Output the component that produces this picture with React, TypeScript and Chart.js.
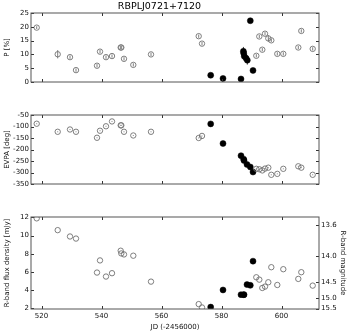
import React, { useEffect, useRef } from 'react';
import { Chart, registerables } from 'chart.js';

Chart.register(...registerables);

// ---------------- data ----------------
const chartTitle = 'RBPLJ0721+7120';
const xTicks = [520, 540, 560, 580, 600];
const pTicks = [0, 5, 10, 15, 20, 25];
const evpaTicks = [-350, -300, -250, -200, -150, -100, -50];
const fluxTicks = [2, 4, 6, 8, 10, 12];
const magTicks = [13.6, 14.0, 14.5, 15.0, 15.5];

const jdOpen = [518.4, 525.4, 529.5, 531.5, 538.5, 539.5, 541.5, 543.5, 546.4, 546.6, 547.5, 550.6, 556.5,
  572.4, 573.5, 591.6, 592.6, 593.6, 594.5, 595.6, 596.6, 598.6, 600.6, 605.6, 606.6, 610.4];
const pOpen = [19.7, 10.05, 9.0, 4.3, 5.9, 11.0, 9.0, 9.4, 12.5, 12.5, 8.4, 6.2, 10.0,
  16.6, 13.9, 9.5, 16.5, 11.7, 17.5, 15.8, 15.1, 10.2, 10.2, 12.5, 18.5, 12.0];
const pOpenErr = [0.5, 1.5, 0.6, 0.6, 0.6, 0.6, 0.6, 0.6, 0.6, 0.6, 0.6, 0.6, 0.6,
  0.6, 0.6, 0.6, 0.6, 0.6, 0.6, 1.2, 0.6, 0.6, 0.6, 0.6, 0.6, 0.6];
const evpaOpen = [-88, -123, -113, -123, -149, -118.5, -99, -78, -95, -95, -123, -139, -123,
  -150, -141, -284, -286, -291, -283, -279, -310, -306, -284, -273, -279, -310];
const evpaOpenErr = [2, 2, 2, 2, 2, 2, 2, 2, 2, 2, 2, 2, 2,
  2, 2, 2, 2, 2, 2, 2, 2, 2, 2, 2, 2, 2];
const fluxOpen = [11.9, 10.6, 9.9, 9.67, 5.92, 7.26, 5.48, 5.85, 8.33, 8.03, 7.92, 7.78, 4.92,
  2.44, 2.07, 5.4, 5.14, 4.22, 4.37, 4.85, 6.51, 4.55, 6.29, 5.22, 5.96, 4.48];

const jdFilledP = [576.4, 580.5, 586.5, 587.3, 587.4, 587.6, 588.2, 588.6, 589.6, 590.5];
const pFilled = [2.45, 1.3, 1.1, 11.1, 10.4, 9.3, 8.6, 7.9, 22.2, 4.2];
const pFilledErr = [0.3, 0.3, 0.3, 1.6, 0.5, 0.5, 0.5, 1.6, 0.4, 0.4];

const jdFilled = [576.4, 580.5, 586.5, 587.4, 587.5, 588.5, 589.6, 590.5];
const evpaFilled = [-88.6, -174, -227, -242, -248, -265, -276, -298];
const fluxFilled = [2.11, 4.0, 3.48, 3.48, 3.48, 4.59, 4.51, 7.18];

// ---------------- layout / style ----------------
const W = 349;
const H = 333;
const FONT = 'DejaVu Sans';
const X_MIN = 516.5;
const X_MAX = 612.5;
const FLUX_MIN = 1.9;
const FLUX_MAX = 12.05;
const R_ZERO_MJY = 3.08e6; // R-band zero point in mJy

const magToFlux = (m: number) => R_ZERO_MJY * Math.pow(10, -0.4 * m);

const pts = (xs: number[], ys: number[]) => xs.map((x, i) => ({ x, y: ys[i] }));

const openStyle = {
  pointRadius: 2.7,
  pointBorderWidth: 0.9,
  pointBorderColor: '#707070',
  pointBackgroundColor: 'rgba(0,0,0,0)',
  showLine: false,
};
const filledStyle = {
  pointRadius: 3,
  pointBorderWidth: 0.5,
  pointBorderColor: '#000',
  pointBackgroundColor: '#000',
  showLine: false,
};

const errorBars = {
  id: 'errorBars',
  beforeDatasetsDraw(chart: any) {
    const { ctx } = chart;
    chart.data.datasets.forEach((ds: any) => {
      if (!ds.errs) return;
      const xs = chart.scales.x;
      const ys = chart.scales[ds.yAxisID || 'y'];
      ctx.save();
      ctx.strokeStyle = ds.errColor || '#707070';
      ctx.lineWidth = 0.9;
      ds.data.forEach((p: any, i: number) => {
        const e = ds.errs[i];
        const px = xs.getPixelForValue(p.x);
        ctx.beginPath();
        ctx.moveTo(px, ys.getPixelForValue(p.y - e));
        ctx.lineTo(px, ys.getPixelForValue(p.y + e));
        ctx.stroke();
      });
      ctx.restore();
    });
  },
};

const frameTicks = {
  id: 'frameTicks',
  afterDraw(chart: any) {
    const { ctx, chartArea: a } = chart;
    const L = 3;
    ctx.save();
    ctx.strokeStyle = '#333';
    ctx.lineWidth = 1;
    const xs = chart.scales.x;
    xTicks.forEach((v) => {
      const px = Math.round(xs.getPixelForValue(v)) + 0.5;
      ctx.beginPath();
      ctx.moveTo(px, a.bottom);
      ctx.lineTo(px, a.bottom - L);
      ctx.moveTo(px, a.top);
      ctx.lineTo(px, a.top + L);
      ctx.stroke();
    });
    const y = chart.scales.y;
    const y2 = chart.scales.y2;
    y.ticks.forEach((t: any) => {
      const py = Math.round(y.getPixelForValue(t.value)) + 0.5;
      ctx.beginPath();
      ctx.moveTo(a.left, py);
      ctx.lineTo(a.left + L, py);
      if (!y2) {
        ctx.moveTo(a.right, py);
        ctx.lineTo(a.right - L, py);
      }
      ctx.stroke();
    });
    if (y2) {
      y2.ticks.forEach((t: any) => {
        const py = Math.round(y2.getPixelForValue(t.value)) + 0.5;
        ctx.beginPath();
        ctx.moveTo(a.right, py);
        ctx.lineTo(a.right - L, py);
        ctx.stroke();
      });
    }
    ctx.strokeStyle = '#555';
    ctx.strokeRect(a.left, a.top, a.right - a.left, a.bottom - a.top);
    ctx.restore();
  },
};

const tickFont = { family: FONT, size: 7 };

function leftAxis(min: number, max: number, ticks: number[], label: string) {
  return {
    type: 'linear',
    position: 'left',
    min,
    max,
    afterFit: (s: any) => { s.width = 31; },
    afterBuildTicks: (s: any) => { s.ticks = ticks.map((v) => ({ value: v })); },
    ticks: { font: tickFont, color: '#111', padding: 2 },
    grid: { display: false, drawTicks: false },
    border: { display: false },
    title: { display: true, text: label, font: tickFont, color: '#111', padding: { top: 3, bottom: 0 } },
  };
}

function xAxis(show: boolean) {
  return {
    type: 'linear',
    min: X_MIN,
    max: X_MAX,
    display: show,
    afterFit: (s: any) => { s.height = 24; },
    afterBuildTicks: (s: any) => { s.ticks = xTicks.map((v) => ({ value: v })); },
    ticks: { font: tickFont, color: '#111', padding: 3, maxRotation: 0 },
    grid: { display: false, drawTicks: false },
    border: { display: false },
    title: { display: true, text: 'JD (-2456000)', font: tickFont, color: '#111', padding: { top: 0, bottom: 2 } },
  };
}

function buildConfigs(): any[] {
  const common = {
    responsive: false,
    animation: false,
    devicePixelRatio: 1,
    events: [],
  };
  const c1 = {
    type: 'scatter',
    data: {
      datasets: [
        { data: pts(jdOpen, pOpen), errs: pOpenErr, ...openStyle },
        { data: pts(jdFilledP, pFilled), errs: pFilledErr, errColor: '#222', ...filledStyle },
      ],
    },
    options: {
      ...common,
      layout: { padding: { top: 0, left: 0, right: 30, bottom: H - 106 } },
      scales: { x: xAxis(false), y: leftAxis(0, 25, pTicks, 'P [%]') },
      plugins: {
        legend: { display: false },
        tooltip: { enabled: false },
        title: {
          display: true,
          text: chartTitle,
          font: { family: FONT, size: 9.5, weight: 'normal' },
          color: '#000',
          padding: { top: 1, bottom: 0.6 },
        },
      },
    },
    plugins: [errorBars, frameTicks],
  };
  const c2 = {
    type: 'scatter',
    data: {
      datasets: [
        { data: pts(jdOpen, evpaOpen), errs: evpaOpenErr, ...openStyle },
        { data: pts(jdFilled, evpaFilled), ...filledStyle },
      ],
    },
    options: {
      ...common,
      layout: { padding: { top: 115, left: 0, right: 30, bottom: H - 208 } },
      scales: { x: xAxis(false), y: leftAxis(-350, -50, evpaTicks, 'EVPA [deg]') },
      plugins: { legend: { display: false }, tooltip: { enabled: false } },
    },
    plugins: [errorBars, frameTicks],
  };
  const c3 = {
    type: 'scatter',
    data: {
      datasets: [
        { data: pts(jdOpen, fluxOpen), ...openStyle },
        { data: pts(jdFilled, fluxFilled), ...filledStyle },
      ],
    },
    options: {
      ...common,
      layout: { padding: { top: 217, left: 0, right: 0, bottom: 0 } },
      scales: {
        x: xAxis(true),
        y: leftAxis(FLUX_MIN, FLUX_MAX, fluxTicks, 'R-band flux density [mJy]'),
        y2: {
          type: 'linear',
          position: 'right',
          min: FLUX_MIN,
          max: FLUX_MAX,
          afterFit: (s: any) => { s.width = 30; },
          afterBuildTicks: (s: any) => { s.ticks = magTicks.map((m) => ({ value: magToFlux(m) })); },
          ticks: {
            font: tickFont,
            color: '#111',
            padding: 2,
            callback: (_v: any, i: number) => magTicks[i].toFixed(1),
          },
          grid: { display: false, drawTicks: false },
          border: { display: false },
          title: { display: true, text: 'R-band magnitude', font: tickFont, color: '#111', padding: { top: 2, bottom: 0 } },
        },
      },
      plugins: { legend: { display: false }, tooltip: { enabled: false } },
    },
    plugins: [errorBars, frameTicks],
  };
  return [c1, c2, c3];
}

export default function App() {
  const r1 = useRef<HTMLCanvasElement>(null);
  const r2 = useRef<HTMLCanvasElement>(null);
  const r3 = useRef<HTMLCanvasElement>(null);

  useEffect(() => {
    document.body.style.margin = '0';
    const cfgs = buildConfigs();
    const refs = [r1, r2, r3];
    const charts = refs.map((r, i) => new Chart(r.current as HTMLCanvasElement, cfgs[i]));
    return () => charts.forEach((c) => c.destroy());
  }, []);

  const cs: React.CSSProperties = { position: 'absolute', left: 0, top: 0, width: W, height: H };
  return (
    <div style={{ position: 'fixed', left: 0, top: 0, width: W, height: H, background: '#fff' }}>
      <canvas ref={r1} width={W} height={H} style={cs} />
      <canvas ref={r2} width={W} height={H} style={cs} />
      <canvas ref={r3} width={W} height={H} style={cs} />
    </div>
  );
}
